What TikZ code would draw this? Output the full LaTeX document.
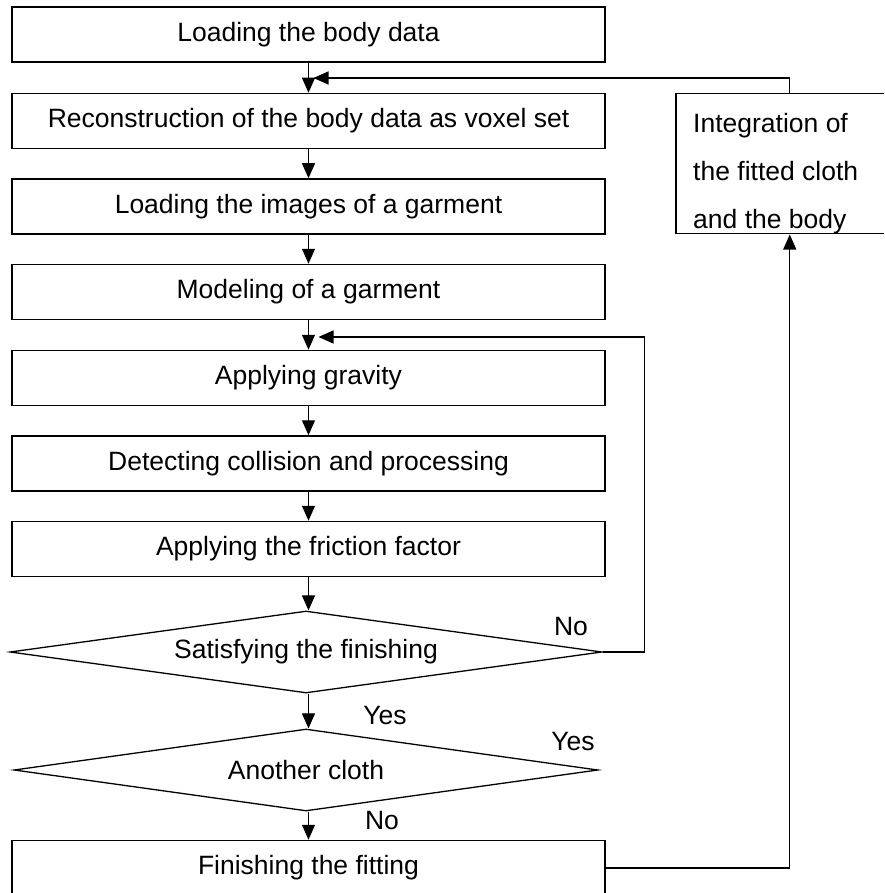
\documentclass[tikz,border=0pt]{standalone}
\usepackage{fontspec}
\setmainfont{Liberation Sans}
\usetikzlibrary{shapes.geometric,arrows.meta}

\tikzset{
  stepbox/.style={draw,line width=1.5pt,minimum width=593pt,minimum height=55pt,inner sep=0pt},
  decision/.style={draw,diamond,aspect=7.2,line width=1.3pt,minimum height=82pt,inner sep=0pt},
  arr/.style={line width=1.2pt,-{Triangle[length=15pt,width=13pt]}}
}

\begin{document}
\begin{tikzpicture}[x=1pt,y=-1pt,font=\fontsize{26.5}{31}\selectfont]
        \clip (0,0) rectangle (884,893);
        \node[stepbox] (load)    at (308.5,34.5) {Loading the body data};
        \node[stepbox] (recon)   at (308.5,121)  {Reconstruction of the body data as voxel set};
        \node[stepbox] (images)  at (308.5,206.5) {Loading the images of a garment};
        \node[stepbox] (model)   at (308.5,292)  {Modeling of a garment};
        \node[stepbox] (gravity) at (308.5,378)  {Applying gravity};
        \node[stepbox] (collide) at (308.5,463.5) {Detecting collision and processing};
        \node[stepbox] (friction) at (308.5,549) {Applying the friction factor};
        \node[decision,minimum width=592pt] (satis) at (306,652) {Satisfying the finishing};
        \node[decision,minimum width=584pt] (another) at (306,770) {Another cloth};
        \node[stepbox] (fitend)  at (308.5,868)  {Finishing the fitting};
        \node[draw,line width=1.5pt,anchor=north west,minimum width=228pt,minimum height=140pt] (integ) at (675,93) {};
        \node[anchor=north west,align=left,inner sep=0pt,font=\fontsize{26.5}{48}\selectfont] (integtext) at (693,113)
          {Integration of\\the fitted cloth\\and the body};
        \node (satno)     at (571,627) {No};
        \node (satyes)    at (385,716) {Yes};
        \node (anotheryes) at (573,742) {Yes};
        \node (anotherno) at (382,821) {No};
        \coordinate (join1) at (308.5,78);
        \coordinate (join2) at (308.5,337);
        \draw[arr] (load) -- (recon);
        \draw[arr] (recon) -- (images);
        \draw[arr] (images) -- (model);
        \draw[arr] (model) -- (gravity);
        \draw[arr] (gravity) -- (collide);
        \draw[arr] (collide) -- (friction);
        \draw[arr] (friction.south) -- (friction.south |- satis.north);
        \draw[arr] (satis.south -| friction.south) -- (friction.south |- another.north);
        \draw[arr] (another.south -| friction.south) -- (fitend);
        \draw[arr] (integ.north) |- ([xshift=5pt]join1);
        \draw[arr] (satis.east) -- ++(42,0) |- ([xshift=10pt]join2);
        \draw[arr] (fitend) -| (integ.south);
      \end{tikzpicture}
\end{document}
